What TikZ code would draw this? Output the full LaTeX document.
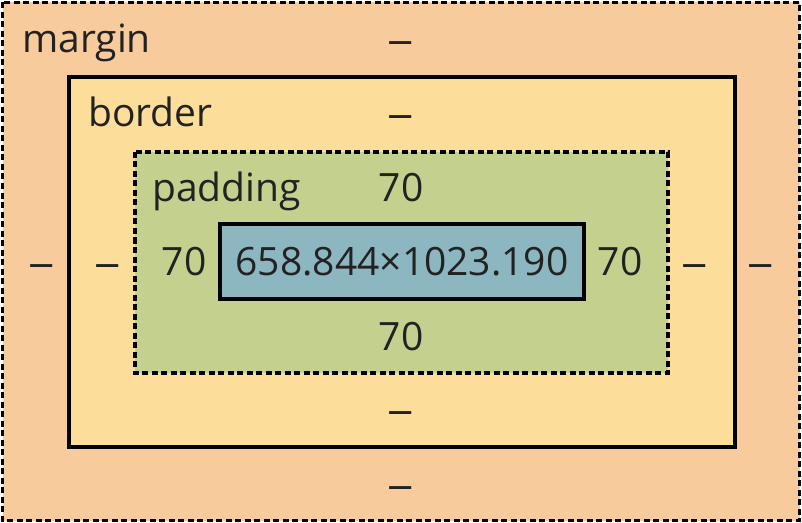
\documentclass[tikz,border=0pt]{standalone}
\usepackage{fontspec}
\setmainfont{Open Sans}
\usepackage{tikz}
\definecolor{marginfill}{HTML}{F8CB9C}
\definecolor{borderfill}{HTML}{FDDD9A}
\definecolor{paddingfill}{HTML}{C4D08E}
\definecolor{contentfill}{HTML}{8CB6C0}
\definecolor{labeltext}{HTML}{222222}
\newcommand{\nilval}{\scalebox{1.35}[1]{–}}
\tikzset{
  lbl/.style={text=labeltext, inner sep=0pt, anchor=base, font=\fontsize{39bp}{42bp}\selectfont},
  dashbox/.style={line width=3.5bp, dash pattern=on 6bp off 3.5bp},
  solidbox/.style={line width=3.5bp}
}

\begin{document}
\begin{tikzpicture}[x=1bp, y=-1bp]
    \useasboundingbox (0,0) rectangle (802,523);
    % boxes
    \draw [dashbox, fill=marginfill] (2.5,2.5) rectangle (799.5,520.5);
    \draw [solidbox, fill=borderfill] (69,77) rectangle (735,447);
    \draw [dashbox, fill=paddingfill] (135,152) rectangle (668,373);
    \draw [solidbox, fill=contentfill] (220,224) rectangle (584,299);
    % labels
    \node [lbl, anchor=base west] (marginlbl) at (22,53) {margin};
    \node [lbl, anchor=base west] (borderlbl) at (88,127) {border};
    \node [lbl, anchor=base west] (paddinglbl) at (152,202) {padding};
    \node [lbl] (content) at (402,276) {658.844×1023.190};
    % values
    \node [lbl] (mtop) at (401,54) {\nilval};
    \node [lbl] (mbottom) at (401,498) {\nilval};
    \node [lbl] (mleft) at (42,277) {\nilval};
    \node [lbl] (mright) at (761,277) {\nilval};
    \node [lbl] (btop) at (401,128) {\nilval};
    \node [lbl] (bbottom) at (401,423) {\nilval};
    \node [lbl] (bleft) at (108,277) {\nilval};
    \node [lbl] (bright) at (695,277) {\nilval};
    \node [lbl] (ptop) at (401,202) {70};
    \node [lbl] (pbottom) at (401,350) {70};
    \node [lbl] (pleft) at (184,276) {70};
    \node [lbl] (pright) at (620,276) {70};
\end{tikzpicture}
\end{document}
